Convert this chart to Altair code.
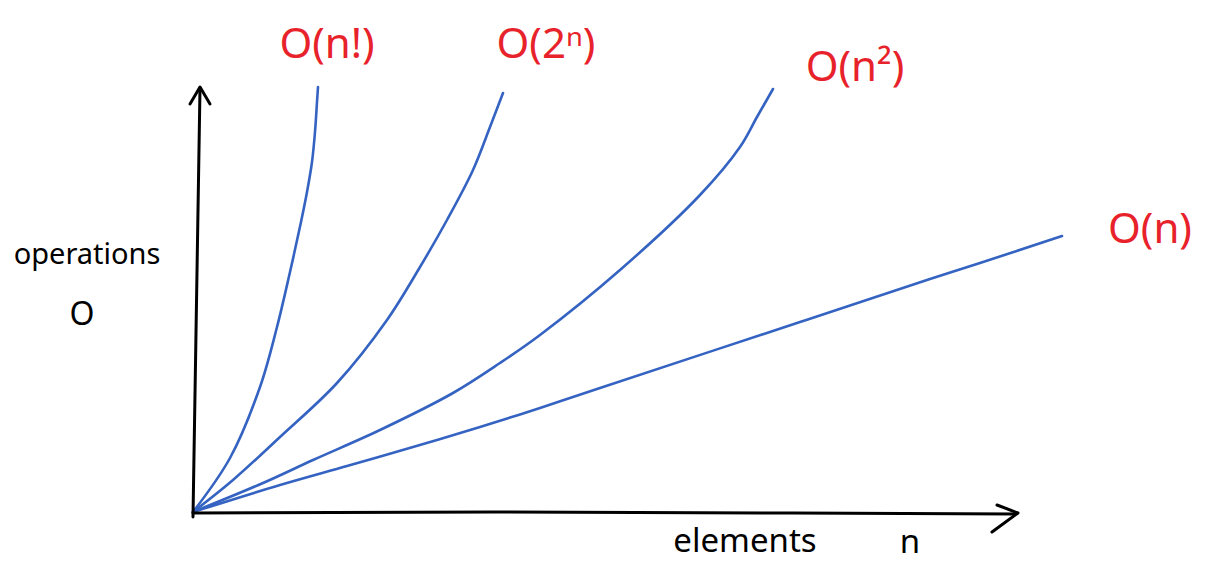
import altair as alt
import pandas as pd

# Curve points (n = elements, ops = operations)
fact_n   = [0, 37, 67, 84, 97, 108, 114, 119, 122, 124, 125]
fact_ops = [0, 54, 125, 185, 240, 290, 320, 350, 380, 410, 425]

exp_n   = [0, 40, 87, 144, 194, 227, 254, 280, 297, 310]
exp_ops = [0, 32, 75, 129, 192, 245, 292, 342, 385, 419]

quad_n   = [0, 70, 120, 187, 260, 307, 347, 427, 507, 547, 564, 580]
quad_ops = [0, 29, 52, 82, 119, 149, 177, 242, 317, 365, 395, 423]

lin_n   = [0, 87, 154, 220, 287, 347, 407, 607, 737, 787, 869]
lin_ops = [0, 27, 46, 65, 85, 104, 124, 190, 233, 249, 276]

series_names = ["O(n!)", "O(2\u207f)", "O(n\u00b2)", "O(n)"]

# Axis arrows (hand-drawn)
axis_segments = {
    "yaxis": ([0, 7], [-5, 424]),
    "yhead": ([-3, 7, 17], [408, 425, 408]),
    "xaxis": ([0, 300, 600, 822], [-1, 0, -1, -2]),
    "xhead": ([804, 825, 799], [7, -1, -20]),
}

label_n   = [134, 353, 662, 957]
label_ops = [467, 467, 444, 282]

axis_words = ["operations", "O", "elements", "n"]
axis_word_n = [-106, -111, 552, 717]
axis_word_ops = [257, 197, -30, -31]
axis_word_size = [29, 32, 33, 33]

rows = []
for name, ns, os_ in zip(series_names,
                         [fact_n, exp_n, quad_n, lin_n],
                         [fact_ops, exp_ops, quad_ops, lin_ops]):
    for i, (a, b) in enumerate(zip(ns, os_)):
        rows.append({"series": name, "n": a, "ops": b, "i": i})
curves = pd.DataFrame(rows)

arows = []
for name, (ns, os_) in axis_segments.items():
    for i, (a, b) in enumerate(zip(ns, os_)):
        arows.append({"seg": name, "n": a, "ops": b, "i": i})
axes = pd.DataFrame(arows)

labels = pd.DataFrame({"text": series_names, "n": label_n, "ops": label_ops})

axis_text = pd.DataFrame({
    "text": axis_words, "n": axis_word_n, "ops": axis_word_ops, "size": axis_word_size,
})

xs = alt.Scale(domain=[-185, 1009], nice=False, zero=False)
ys = alt.Scale(domain=[-56, 504], nice=False, zero=False)
X = alt.X("n:Q", scale=xs, axis=None)
Y = alt.Y("ops:Q", scale=ys, axis=None)

curve_layer = alt.Chart(curves).mark_line(
    color="#3563c2", strokeWidth=2.6, interpolate="catmull-rom", strokeCap="round"
).encode(x=X, y=Y, detail="series:N", order="i:Q")

axis_layer = alt.Chart(axes).mark_line(
    color="black", strokeWidth=3, strokeCap="round", strokeJoin="round"
).encode(x=X, y=Y, detail="seg:N", order="i:Q")

label_layer = alt.Chart(labels).mark_text(
    color="#e8222a", fontSize=42, font="Noto Sans", align="center", baseline="middle"
).encode(x=X, y=Y, text="text:N")

axis_text_layer = alt.Chart(axis_text).mark_text(
    color="black", font="Noto Sans", align="center", baseline="middle"
).encode(x=X, y=Y, text="text:N", size=alt.Size("size:Q", scale=None, legend=None))

chart = alt.layer(curve_layer, axis_layer, label_layer, axis_text_layer).properties(
    width=1194, height=560, padding=0, background="white",
    autosize=alt.AutoSizeParams(type="none")
).configure_view(stroke=None)

chart.save("out.html", embed_options={"renderer": "svg", "actions": False})
